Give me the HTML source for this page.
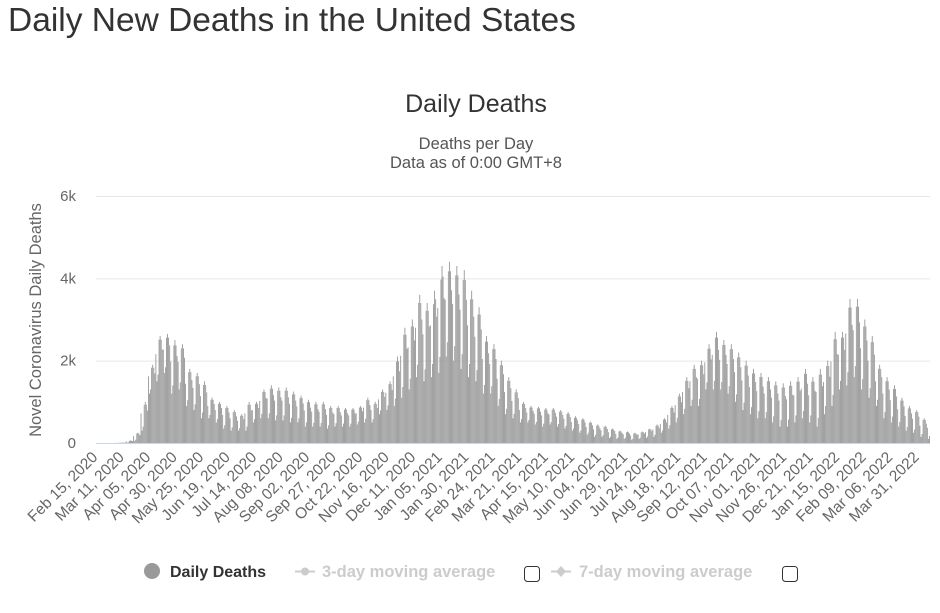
<!DOCTYPE html>
<html><head><meta charset="utf-8"><style>
body{margin:0;background:#fff;font-family:"Liberation Sans",sans-serif;}
#wrap{position:relative;width:940px;height:613px;overflow:hidden;}
h1{position:absolute;left:8px;top:2px;margin:0;font-weight:normal;font-size:33.5px;color:#333;}
</style></head><body>
<div id="wrap">
<h1>Daily New Deaths in the United States</h1>
<svg id="chart" width="940" height="613" style="position:absolute;left:0;top:0"></svg>
</div>
<script>
const startDate = "2020-02-15";
const yTicks = [0, 2000, 4000, 6000];
const yTickLabels = ["0", "2k", "4k", "6k"];
const xTickLabels = ["Feb 15, 2020","Mar 11, 2020","Apr 05, 2020","Apr 30, 2020","May 25, 2020","Jun 19, 2020","Jul 14, 2020","Aug 08, 2020","Sep 02, 2020","Sep 27, 2020","Oct 22, 2020","Nov 16, 2020","Dec 11, 2020","Jan 05, 2021","Jan 30, 2021","Feb 24, 2021","Mar 21, 2021","Apr 15, 2021","May 10, 2021","Jun 04, 2021","Jun 29, 2021","Jul 24, 2021","Aug 18, 2021","Sep 12, 2021","Oct 07, 2021","Nov 01, 2021","Nov 26, 2021","Dec 21, 2021","Jan 15, 2022","Feb 09, 2022","Mar 06, 2022","Mar 31, 2022"];
const dailyDeaths = [
0,0,0,0,0,0,0, 0,0,0,0,0,0,0, 0,0,1,2,3,2,1, 6,5,6,9,10,9,8,
40,10,20,55,60,55,45, 170,50,80,230,250,230,190, 720,300,400,930,1000,930,790,
1620,1200,1300,1830,1900,1830,1690, 2160,1500,1660,2510,2600,2510,2270, 2270,1700,1840,2560,2650,2560,2370,
1980,1200,1400,2370,2500,2370,2110, 1970,1300,1470,2300,2400,2300,2070, 1440,900,1040,1720,1800,1720,1530,
1340,800,940,1620,1700,1620,1430, 1140,600,740,1410,1500,1410,1230, 900,600,680,1050,1100,1050,950,
800,500,580,950,1000,950,850, 680,350,430,850,900,850,740, 600,300,380,750,800,750,650,
540,300,360,660,700,660,580, 720,300,400,930,1000,930,790, 800,500,580,950,1000,950,850,
1020,600,710,1240,1300,1240,1090, 1080,600,720,1320,1400,1320,1160, 1030,550,670,1270,1350,1270,1110,
1030,550,670,1270,1350,1270,1110, 950,500,610,1180,1250,1180,1030, 890,500,600,1090,1150,1090,960,
790,400,500,990,1050,990,860, 760,400,490,940,1000,940,820, 760,400,490,940,1000,940,820,
680,350,430,850,900,850,740, 700,400,480,850,900,850,750, 670,400,470,810,850,810,720,
670,400,470,810,850,810,720, 720,450,520,860,900,860,770, 860,500,590,1040,1100,1040,920,
800,500,580,950,1000,950,850, 1060,700,790,1240,1300,1240,1120, 1220,800,910,1430,1500,1430,1290,
1620,900,1080,1980,2100,1980,1740, 2120,1100,1360,2630,2800,2630,2290, 2320,1300,1560,2830,3000,2830,2490,
2800,1600,1900,3400,3600,3400,3000, 2640,1500,1790,3210,3400,3210,2830, 2860,1600,1920,3370,3700,3490,3070,
3280,1700,2090,3970,4300,4040,3520, 3480,2100,2450,4170,4400,4170,3710, 3380,2000,2350,4070,4300,4070,3610,
3240,1800,2160,3960,4200,3960,3480, 2860,1600,1920,3490,3700,3490,3070, 2580,1500,1770,3120,3300,3120,2760,
2040,1200,1410,2460,2600,2460,2180, 1920,1200,1380,2280,2400,2280,2040, 1560,900,1070,1890,2000,1890,1670,
1240,700,830,1510,1600,1510,1330, 1020,600,710,1230,1300,1230,1090, 800,500,580,950,1000,950,850,
740,500,560,860,900,860,780, 710,450,510,840,880,840,760, 670,400,470,810,850,810,720,
690,450,510,810,850,810,730, 640,400,460,760,800,760,680, 590,350,410,710,750,710,630,
510,300,350,610,650,610,550, 460,250,300,570,600,570,500, 390,200,250,490,520,490,430,
330,150,200,420,450,420,360, 310,150,190,390,420,390,340, 260,120,150,330,350,330,290,
220,100,130,280,300,280,240, 210,100,130,260,280,260,230, 180,80,100,230,250,230,200,
210,100,130,260,280,260,230, 260,120,160,330,350,330,290, 330,150,200,420,450,420,360,
460,250,300,570,600,570,500, 680,350,430,850,900,850,740, 920,500,610,1130,1200,1130,990,
1240,700,830,1510,1600,1510,1330, 1500,900,1050,1800,1900,1800,1600, 1560,900,1070,1890,2000,1890,1670,
1960,1300,1470,2290,2400,2290,2030, 2140,1300,1510,2560,2700,2560,2260, 2020,1300,1480,2380,2500,2380,2140,
1920,1200,1380,2280,2400,2280,2040, 1720,1000,1180,2080,2200,2080,1840, 1520,800,980,1880,2000,1880,1640,
1360,700,870,1690,1800,1690,1480, 1260,600,770,1600,1700,1600,1370, 1200,600,750,1500,1600,1500,1300,
1100,500,650,1400,1500,1400,1200, 1030,400,560,1350,1450,1350,1140, 1060,400,570,1390,1500,1390,1170,
1160,500,670,1490,1600,1490,1270, 1320,600,780,1680,1800,1680,1440, 1160,500,670,1490,1600,1490,1270,
1240,400,610,1660,1800,1660,1380, 1480,700,900,1870,2000,1870,1610, 1980,900,1170,2520,2700,2520,2160,
2140,1300,1510,2560,2700,2560,2260, 2660,1400,1720,3290,3500,3290,2870, 2740,1600,1870,3310,3500,3310,2930,
2300,1300,1550,2830,3000,2830,2490, 2000,1100,1330,2450,2600,2450,2150, 1500,900,1050,1800,1900,1800,1600,
1200,600,750,1500,1600,1500,1300, 1040,500,640,1310,1400,1310,1130, 820,400,510,1030,1100,1030,890,
660,300,390,840,900,840,720, 590,250,330,750,800,750,640, 420,150,220,560,600,560,470,
370,100,170
];
const xTickStep = 25;

const NS = "http://www.w3.org/2000/svg";
const svg = document.getElementById('chart');
const PL = 96, PR = 930, PT = 196, PB = 443, YMAX = 6000;
const n = dailyDeaths.length;
const bw = (PR - PL) / n;
function xScale(i){ return PL + (i + 0.5) * bw; }
function yScale(v){ return PB - (v / YMAX) * (PB - PT); }
function mk(tag, attrs, text){
  const e = document.createElementNS(NS, tag);
  for (const k in attrs) e.setAttribute(k, attrs[k]);
  if (text !== undefined) e.textContent = text;
  svg.appendChild(e);
  return e;
}
const FF = 'Liberation Sans, sans-serif';
let t;
t = mk('text', {x:476, y:112, 'text-anchor':'middle', 'font-size':25, fill:'#333', 'font-family':FF}, 'Daily Deaths');


t = mk('text', {x:476, y:149, 'text-anchor':'middle', 'font-size':16.5, fill:'#555', 'font-family':FF}, 'Deaths per Day');


t = mk('text', {x:476, y:168, 'text-anchor':'middle', 'font-size':16.5, fill:'#555', 'font-family':FF}, 'Data as of 0:00 GMT+8');



yTicks.forEach((v, k) => {
  const y = yScale(v);
  const g = mk('line', {x1:PL, x2:PR, y1:y+0.5, y2:y+0.5, stroke: v===0 ? '#ccd6eb' : '#e6e6e6', 'stroke-width':1});
  
  
  const l = mk('text', {x:76, y:y+5, 'text-anchor':'end', 'font-size':15, fill:'#666', 'font-family':FF}, yTickLabels[k]);
  
  
});
t = mk('text', {x:0, y:0, transform:'translate(41,320) rotate(-90)', 'text-anchor':'middle', 'font-size':16.5, fill:'#666', 'font-family':FF}, 'Novel Coronavirus Daily Deaths');



dailyDeaths.forEach((v, i) => {
  const y = yScale(v);
  const r = mk('rect', {x: xScale(i) - bw*0.42, y: y, width: bw*0.84, height: Math.max(0, PB - y), fill:'#979797'});
  
  
});

xTickLabels.forEach((s, k) => {
  const x = xScale(k * xTickStep);
  const l = mk('text', {x:0, y:0, transform:'translate(' + (x+2) + ',458) rotate(-45)', 'text-anchor':'end', 'font-size':15.5, fill:'#666', 'font-family':FF}, s);
  
  
});

// legend
let c = mk('circle', {cx:152, cy:571, r:8, fill:'#999'});


t = mk('text', {x:170, y:577, 'font-size':16, 'font-weight':'bold', fill:'#333', 'font-family':FF}, 'Daily Deaths');


let ln = mk('line', {x1:295, x2:315, y1:571.5, y2:571.5, stroke:'#ccc', 'stroke-width':2});


c = mk('circle', {cx:305, cy:571.5, r:4, fill:'#ccc'});


t = mk('text', {x:322, y:577, 'font-size':16.5, 'font-weight':'bold', fill:'#ccc', 'font-family':FF}, '3-day moving average');


let cb = mk('rect', {x:524.5, y:566.5, width:15, height:15, rx:3, fill:'#fff', stroke:'#333', 'stroke-width':1});


ln = mk('line', {x1:551, x2:571, y1:571.5, y2:571.5, stroke:'#ccc', 'stroke-width':2});


c = mk('path', {d:'M561 566 L566 571.5 L561 577 L556 571.5 Z', fill:'#ccc'});


t = mk('text', {x:579, y:577, 'font-size':16.5, 'font-weight':'bold', fill:'#ccc', 'font-family':FF}, '7-day moving average');


cb = mk('rect', {x:782.5, y:566.5, width:15, height:15, rx:3, fill:'#fff', stroke:'#333', 'stroke-width':1});


</script>
</body></html>
